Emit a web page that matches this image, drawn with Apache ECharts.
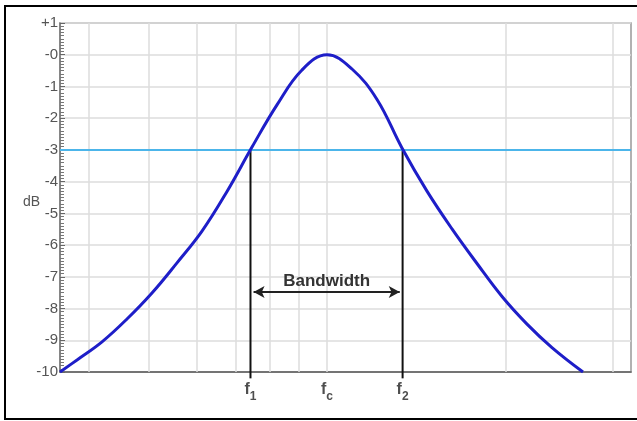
<!DOCTYPE html>
<html>
<head>
<meta charset="utf-8">
<script src="https://cdn.jsdelivr.net/npm/echarts@6/dist/echarts.min.js"></script>
<style>html,body{margin:0;padding:0;background:#fff;}#c{width:637px;height:421px;}</style>
</head>
<body>
<div id="c"></div>
<script>
// Frequency axis in arbitrary linear units (0..100 across the plot)
const curveX = [0, 2.98, 7.36, 11.73, 16.11, 20.49, 24.87, 29.25, 33.63, 38.0, 42.38, 46.76, 51.14, 55.52, 59.89, 64.27, 68.65, 73.03, 77.41, 81.79, 86.16, 91.59];
const curveDb = [-10, -9.62, -9.05, -8.33, -7.51, -6.56, -5.56, -4.31, -2.91, -1.58, -0.48, 0, -0.45, -1.41, -2.94, -4.30, -5.49, -6.58, -7.62, -8.49, -9.23, -10];
const gridX = [5.1, 15.6, 24.0, 30.8, 36.8, 41.9, 46.76, 78.1, 96.8];
const cutoffDb = -3;
const markerNames = ['f1', 'fc', 'f2'];
const markerX = [33.36, 46.76, 60.0];
const markerSub = ['1', 'c', '2'];
const bandwidthLabel = 'Bandwidth';
const bandwidthFrom = 33.9;
const bandwidthTo = 59.5;
const bandwidthDb = -7.48;
const yTicks = [1, 0, -1, -2, -3, -4, -5, -6, -7, -8, -9, -10];
const yTickLabels = ['+1', '-0', '-1', '-2', '-3', '-4', '-5', '-6', '-7', '-8', '-9', '-10'];
const yName = 'dB';

const FONT = '"Liberation Sans", Arial, sans-serif';
const chart = echarts.init(document.getElementById('c'), null, {renderer: 'canvas'});

const curveData = curveX.map((x, i) => [x, curveDb[i]]);

const vLineSeries = [0, 2].map(i => ({
  type: 'line',
  data: [[markerX[i], -10.2], [markerX[i], cutoffDb]],
  clip: false,
  symbol: 'none',
  silent: true,
  z: 4,
  lineStyle: {color: '#111', width: 2}
}));

chart.setOption({
  animation: false,
  backgroundColor: '#fff',
  textStyle: {fontFamily: FONT},
  graphic: [{
    type: 'rect',
    shape: {x: 5, y: 6, width: 660, height: 413},
    style: {fill: 'none', stroke: '#000', lineWidth: 2},
    silent: true, z: 100
  }],
  grid: {left: 60, top: 23, right: 6, bottom: 49, show: true, borderColor: '#999', borderWidth: 1.5},
  xAxis: {
    type: 'value', min: 0, max: 100,
    axisLine: {show: true, onZero: false, lineStyle: {color: '#555', width: 1.5}},
    axisTick: {show: false}, axisLabel: {show: false}, splitLine: {show: false}
  },
  yAxis: {
    type: 'value', min: -10, max: 1, interval: 1,
    name: yName, nameLocation: 'middle', nameGap: 20, nameRotate: 0, nameMoveOverlap: false,
    nameTextStyle: {color: '#555', fontSize: 14, fontFamily: FONT, verticalAlign: 'top', lineHeight: 10},
    axisLine: {show: true, lineStyle: {color: '#777', width: 1.5}},
    axisTick: {show: true, inside: true, length: 5, lineStyle: {color: '#666'}},
    minorTick: {show: true, splitNumber: 10, length: 4, lineStyle: {color: '#777'}},
    axisLabel: {
      color: '#555', fontSize: 15, fontFamily: FONT, margin: 2,
      formatter: v => { const i = yTicks.indexOf(Math.round(v)); return i >= 0 ? yTickLabels[i] : ''; }
    },
    splitLine: {show: true, lineStyle: {color: '#dcdcdc', width: 1.5}}
  },
  series: [
    {
      type: 'line', data: [], silent: true, z: 1,
      markLine: {
        silent: true, symbol: 'none', animation: false,
        label: {show: false},
        lineStyle: {color: '#dcdcdc', width: 1.5, type: 'solid'},
        data: gridX.map(x => ({xAxis: x}))
      }
    },
    {
      type: 'line', data: [], silent: true, z: 2,
      markLine: {
        silent: true, symbol: 'none', animation: false,
        label: {show: false},
        lineStyle: {color: '#4cb5ea', width: 2, type: 'solid'},
        data: [{yAxis: cutoffDb}]
      }
    },
    ...vLineSeries,
    {
      type: 'line', data: curveData, smooth: 0.4, symbol: 'none', z: 5,
      lineStyle: {color: '#1e1ec8', width: 3}
    },
    {
      type: 'line', data: [], silent: true, z: 6,
      markLine: {
        silent: true, symbol: ['arrow', 'arrow'], symbolSize: [9, 11], animation: false,
        lineStyle: {color: '#222', width: 2, type: 'solid'},
        label: {show: true, position: 'middle', formatter: bandwidthLabel, color: '#333', fontWeight: 'bold', fontSize: 17, fontFamily: FONT, distance: 2},
        data: [[{coord: [bandwidthFrom, bandwidthDb]}, {coord: [bandwidthTo, bandwidthDb]}]]
      }
    },
    {
      type: 'scatter', symbolSize: 0, silent: true, z: 7, clip: false,
      data: markerX.map((x, i) => ({value: [x, -10], name: markerNames[i]})),
      label: {
        show: true, position: 'bottom', distance: 8,
        formatter: p => '{f|f}{s|' + markerSub[p.dataIndex] + '}',
        rich: {
          f: {fontSize: 16, fontWeight: 'bold', color: '#222', fontFamily: FONT, verticalAlign: 'bottom', lineHeight: 18},
          s: {fontSize: 12, fontWeight: 'bold', color: '#222', fontFamily: FONT, verticalAlign: 'bottom', lineHeight: 18, padding: [0, 0, -5, 0]}
        }
      }
    }
  ]
});
</script>
</body>
</html>
